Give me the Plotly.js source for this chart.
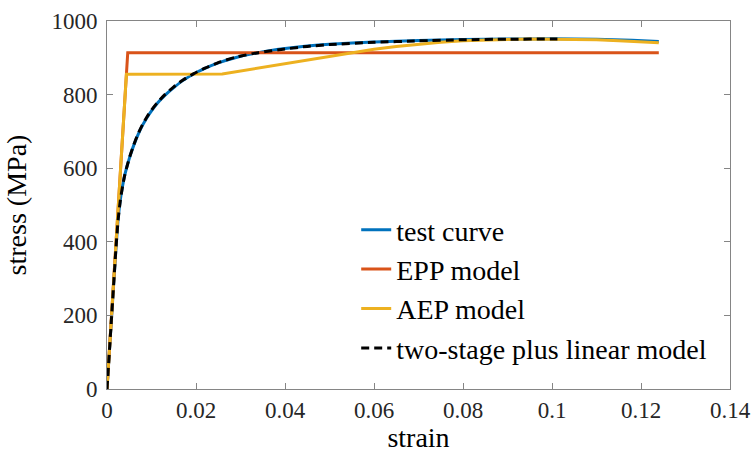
<!DOCTYPE html>
<html>
<head>
<meta charset="utf-8">
<script src="https://cdn.plot.ly/plotly-3.0.1.min.js"></script>
<style>
  html, body { margin: 0; padding: 0; background: #ffffff; }
  #chart { width: 751px; height: 453px; }
</style>
</head>
<body>
<div id="chart"></div>
<script>
// Measured stress-strain response
const testStrain = [0, 0.0010, 0.0020, 0.0025, 0.0030, 0.0035, 0.0040, 0.0050, 0.0060, 0.0070, 0.0080, 0.0090, 0.0100, 0.0115, 0.0130, 0.0150, 0.0170, 0.0195, 0.0220, 0.0250, 0.0290, 0.0340, 0.0400, 0.0450, 0.0500, 0.0600, 0.0700, 0.0800, 0.0900, 0.1000, 0.1100, 0.1180, 0.1240];
const testStress = [0, 190, 380, 462, 515, 552, 582, 626, 662, 692, 717, 738, 756, 779, 798, 819, 838, 856, 871, 886, 901, 914, 925, 932, 937, 943, 947, 949.5, 951, 951.5, 950.5, 947.5, 944];

// Elastic-perfectly-plastic model
const eppStrain = [0, 0.00466, 0.1240];
const eppStress = [0, 914, 914];

// Elastic-plastic model with plateau and hardening
const aepStrain = [0, 0.00436, 0.0259, 0.0300, 0.0350, 0.0400, 0.0450, 0.0500, 0.0550, 0.0600, 0.0650, 0.0700, 0.0750, 0.0800, 0.0850, 0.0900, 0.0950, 0.1000, 0.1050, 0.1100, 0.1150, 0.1200, 0.1240];
const aepStress = [0, 855, 856, 864, 874, 884, 894, 904, 914, 923, 931, 937, 942, 946, 948.5, 950, 951, 951, 950.5, 949, 946.5, 943.5, 941];

// Two-stage plus linear model
const tsStrain = [0, 0.0010, 0.0020, 0.0025, 0.0030, 0.0035, 0.0040, 0.0050, 0.0060, 0.0070, 0.0080, 0.0090, 0.0100, 0.0115, 0.0130, 0.0150, 0.0170, 0.0195, 0.0220, 0.0250, 0.0290, 0.0340, 0.0400, 0.0450, 0.0500, 0.0600, 0.0700, 0.0800, 0.0900, 0.1000, 0.1020];
const tsStress = [0, 190, 380, 460, 513, 551, 582, 627, 663, 694, 719, 740, 758, 781, 800, 821, 839, 857, 872, 887, 902, 914, 924, 931, 936, 942, 946, 949, 950.5, 951, 951];

const xTicks = [0, 0.02, 0.04, 0.06, 0.08, 0.1, 0.12, 0.14];
const xTickText = ['0', '0.02', '0.04', '0.06', '0.08', '0.1', '0.12', '0.14'];
const yTicks = [0, 200, 400, 600, 800, 1000];

const serif = 'Liberation Serif';
const axisGray = '#858585';
const textDark = '#262626';

const traces = [
  { x: testStrain, y: testStress, name: 'test curve', mode: 'lines',
    line: { color: '#0072BD', width: 3, shape: 'spline', smoothing: 0.5 } },
  { x: eppStrain, y: eppStress, name: 'EPP model', mode: 'lines',
    line: { color: '#D95319', width: 3 } },
  { x: aepStrain, y: aepStress, name: 'AEP model', mode: 'lines',
    line: { color: '#EDB120', width: 3, shape: 'linear' } },
  { x: tsStrain, y: tsStress, name: 'two-stage plus linear model', mode: 'lines',
    line: { color: '#000000', width: 3, dash: '8px,5px', shape: 'spline', smoothing: 0.5 } }
];

const axisCommon = {
  showgrid: false, zeroline: false,
  showline: true, linecolor: axisGray, linewidth: 1,
  mirror: 'ticks', ticks: 'inside', ticklen: 6, tickwidth: 1, tickcolor: axisGray,
  tickfont: { family: serif, size: 23, color: textDark },
  automargin: false
};

const layout = {
  width: 751, height: 453,
  margin: { l: 107, r: 21, t: 21, b: 64 },
  paper_bgcolor: '#ffffff', plot_bgcolor: '#ffffff',
  font: { family: serif, color: textDark },
  showlegend: true,
  legend: {
    x: 0.40, y: 0.50, xanchor: 'left', yanchor: 'top',
    bgcolor: 'rgba(255,255,255,0)', borderwidth: 0,
    font: { family: serif, size: 28, color: '#000000' },
    tracegroupgap: 0
  },
  xaxis: Object.assign({}, axisCommon, {
    range: [0, 0.14], tickvals: xTicks, ticktext: xTickText,
    title: { text: 'strain', font: { family: serif, size: 28, color: '#000000' }, standoff: 8 }
  }),
  yaxis: Object.assign({}, axisCommon, {
    range: [0, 1000], tickvals: yTicks, ticklabelstandoff: 4,
    title: { text: 'stress (MPa)', font: { family: serif, size: 28, color: '#000000' }, standoff: 16 }
  })
};

Plotly.newPlot('chart', traces, layout, { displayModeBar: false, staticPlot: true });
</script>
</body>
</html>
